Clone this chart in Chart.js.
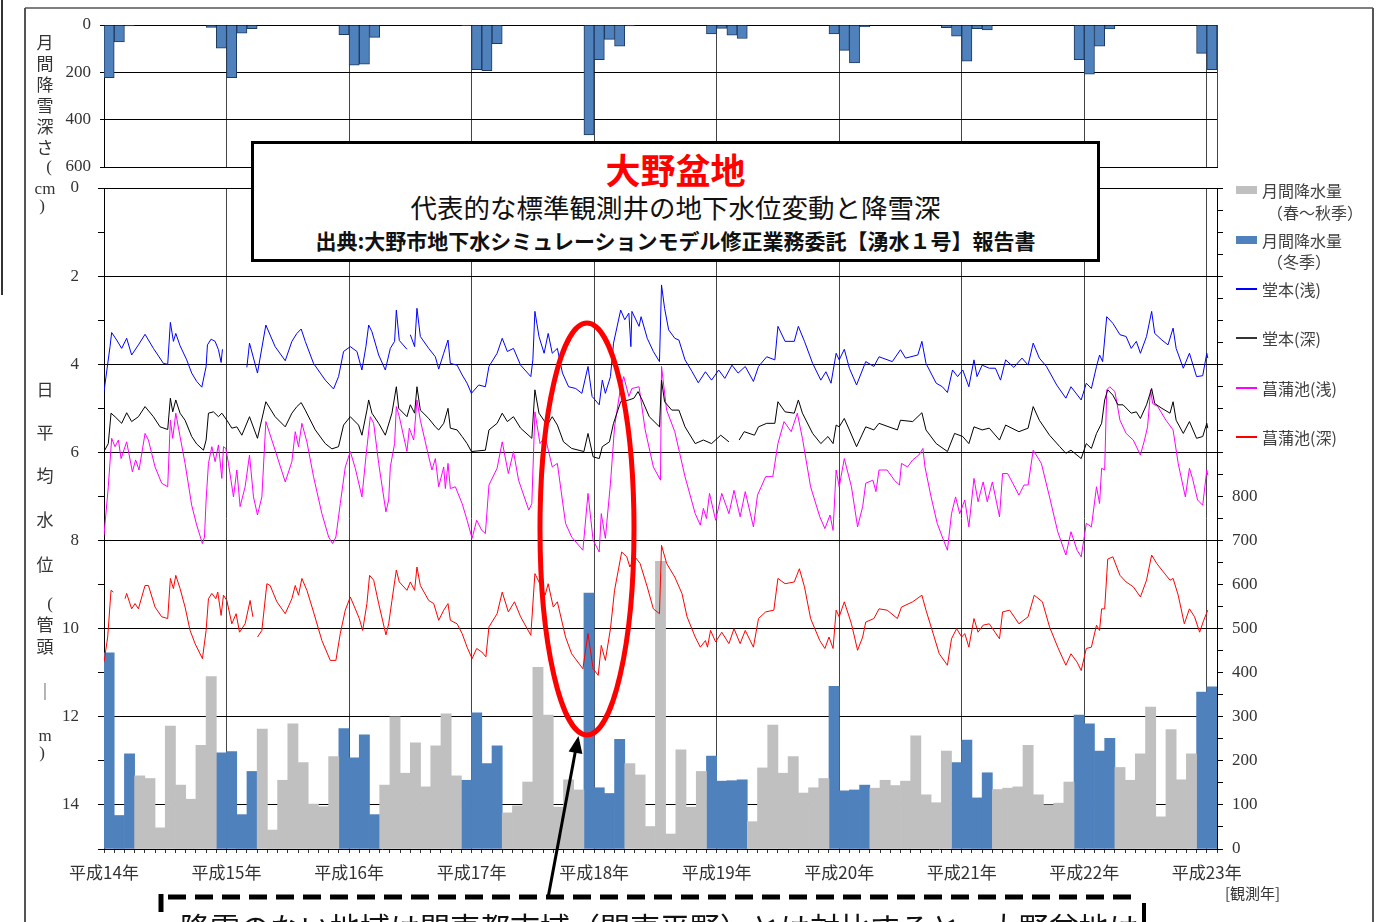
<!DOCTYPE html>
<html lang="ja">
<head>
<meta charset="utf-8">
<title>大野盆地 代表的な標準観測井の地下水位変動と降雪深</title>
<script src="https://cdn.jsdelivr.net/npm/chart.js@4.4.1/dist/chart.umd.min.js"></script>
<style>
  html, body { margin: 0; padding: 0; background: #fff; width: 1389px; height: 922px; overflow: hidden; }
  body { position: relative; font-family: "Noto Sans CJK JP", sans-serif; color: #333; }
  canvas { position: absolute; left: 0; top: 0; }
  .abs { position: absolute; white-space: nowrap; line-height: 1; }
  .vchar { position: absolute; transform: translate(-50%, -50%); font-size: 17px; line-height: 1; color: #333; }
  .serif { font-family: "Liberation Serif", "DejaVu Serif", serif; }
  #titleBox { position: absolute; left: 251px; top: 141px; width: 849px; height: 121px; box-sizing: border-box;
              border: 3px solid #000; background: #fff; text-align: center; }
  #titleBox div { position: absolute; left: 0; right: 0; line-height: 1; white-space: nowrap; }
  .legend { position: absolute; font-size: 16px; color: #404040; line-height: 1; white-space: nowrap; }
  .sw { position: absolute; left: 1236px; width: 21px; height: 8px; }
  .ln { position: absolute; left: 1236px; width: 21px; height: 2px; }
</style>
</head>
<body>
<canvas id="mainChart" width="1389" height="922"></canvas>
<canvas id="snowChart" width="1389" height="190"></canvas>

<svg width="1389" height="922" style="position:absolute;left:0;top:0;pointer-events:none">
  <line x1="2" y1="0" x2="2" y2="295" stroke="#333" stroke-width="2"/>
  <line x1="25" y1="8" x2="25" y2="922" stroke="#555" stroke-width="2"/>
  <line x1="1373" y1="8" x2="1373" y2="922" stroke="#555" stroke-width="2"/>
  <line x1="25" y1="8" x2="1373" y2="8" stroke="#555" stroke-width="1.5"/>
  <ellipse cx="587" cy="529" rx="47" ry="206" fill="none" stroke="#ff0000" stroke-width="5"/>
  <line x1="548" y1="898" x2="576" y2="748" stroke="#000" stroke-width="3"/>
  <polygon points="578.5,736 582.4,754 568.6,751.5" fill="#000"/>
  <line x1="168" y1="897" x2="1140" y2="897" stroke="#000" stroke-width="5" stroke-dasharray="18 9"/>
  <line x1="161" y1="894" x2="161" y2="912" stroke="#000" stroke-width="5"/>
  <line x1="1144" y1="903" x2="1144" y2="922" stroke="#000" stroke-width="4"/>
</svg>

<div id="titleBox">
  <div style="top:7px;color:#ff0000;font-weight:bold;font-size:35px;">大野盆地</div>
  <div style="top:50px;font-size:26.5px;color:#111;">代表的な標準観測井の地下水位変動と降雪深</div>
  <div style="top:86px;font-size:21px;font-weight:bold;color:#111;">出典:大野市地下水シミュレーションモデル修正業務委託【湧水１号】報告書</div>
</div>

<div class="abs" style="left:180px;top:911px;font-size:30px;color:#111;">降雪のない地域は関東都市域（関東平野）とは対比すると、大野盆地は</div>
<div class="abs" style="left:1225px;top:885px;font-size:15px;color:#333;">[観測年]</div>

<div id="axisTitles"></div>

<div class="sw" style="top:186px;background:#c0c0c0"></div>
<div class="legend" style="left:1262px;top:182px">月間降水量</div>
<div class="legend" style="left:1267px;top:204px">（春～秋季）</div>
<div class="sw" style="top:236px;background:#4f81bd"></div>
<div class="legend" style="left:1262px;top:232px">月間降水量</div>
<div class="legend" style="left:1267px;top:253px">（冬季）</div>
<div class="ln" style="top:288px;background:#0000ff"></div>
<div class="legend" style="left:1262px;top:281px">堂本(浅)</div>
<div class="ln" style="top:337px;background:#333"></div>
<div class="legend" style="left:1262px;top:330px">堂本(深)</div>
<div class="ln" style="top:387px;background:#ff00ff"></div>
<div class="legend" style="left:1262px;top:380px">菖蒲池(浅)</div>
<div class="ln" style="top:436px;background:#ff0000"></div>
<div class="legend" style="left:1262px;top:429px">菖蒲池(深)</div>

<script>
// 月 index: 0 = 平成14年1月 ... 108 = 平成23年1月
const yearLabels = ['平成14年', '平成15年', '平成16年', '平成17年', '平成18年',
                    '平成19年', '平成20年', '平成21年', '平成22年', '平成23年'];

// 月間降水量 (mm)
const precip = [
  445, 76, 216, 166, 160, 48, 279, 145, 113, 235, 391, 218,
  221, 78, 176, 272, 43, 156, 284, 196, 102, 96, 210, 273,
  207, 259, 78, 145, 300, 172, 241, 141, 234, 307, 166, 156,
  309, 194, 234, 82, 98, 152, 412, 304, 95, 157, 134, 581,
  139, 126, 249, 194, 168, 51, 653, 34, 225, 95, 176, 211,
  154, 155, 157, 62, 184, 281, 172, 210, 127, 139, 160, 369,
  132, 134, 145, 138, 156, 144, 154, 257, 123, 105, 222, 196,
  247, 116, 173, 135, 138, 141, 235, 123, 100, 104, 152, 304,
  284, 222, 251, 185, 156, 216, 322, 73, 271, 157, 216, 356,
  368
];

// 月間降雪深さ (cm)
const snow = [
  223, 72, 4, 0, 0, 0, 0, 0, 0, 0, 10, 98,
  223, 35, 16, 0, 0, 0, 0, 0, 0, 0, 0, 41,
  170, 166, 52, 0, 0, 0, 0, 0, 0, 0, 0, 3,
  189, 193, 79, 0, 0, 0, 0, 0, 0, 0, 0, 464,
  146, 61, 89, 4, 0, 0, 0, 0, 0, 0, 0, 38,
  14, 43, 57, 0, 0, 0, 0, 0, 0, 0, 0, 38,
  107, 160, 7, 0, 0, 0, 0, 0, 0, 0, 11, 47,
  153, 16, 21, 0, 0, 0, 0, 0, 0, 0, 0, 146,
  208, 89, 17, 0, 0, 0, 0, 0, 0, 0, 0, 120,
  189
];

// 日平均水位 (管頭-m)  [月, 水位]
const doumotoAsai = [
  [0,4.62],[0.59,3.60],[0.75,3.28],[1.24,3.45],[1.73,3.64],[2.22,3.41],[2.71,3.79],[3.37,3.56],[4.02,3.32],[4.84,3.64],
  [5.82,3.98],[6.24,4.00],[6.50,3.05],[6.80,3.48],[7.03,3.30],[7.45,3.58],[8.10,3.90],[8.59,4.20],[9.08,4.39],[9.58,4.52],
  [10.0,4.05],[10.13,3.56],[10.49,3.43],[10.88,3.48],[11.21,3.67],[11.47,3.96],[11.60,3.66],[12.8,null],[13.99,4.07],[14.25,3.52],
  [15.03,4.20],[15.85,3.11],[16.76,3.60],[17.75,3.92],[18.40,3.48],[18.89,3.30],[19.31,3.20],[19.71,3.48],[20.52,3.98],[21.67,4.36],
  [22.48,4.56],[22.97,4.28],[23.46,3.71],[24.12,3.60],[24.77,3.71],[25.26,4.13],[25.65,3.60],[25.92,3.11],[26.24,3.26],[26.90,3.79],
  [27.55,4.13],[28.04,3.64],[28.46,3.48],[28.63,2.77],[28.92,3.46],[29.67,3.66],[29.85,null],[30.0,3.33],[30.42,3.60],[30.65,2.73],
  [30.98,3.37],[31.80,3.64],[32.45,3.83],[32.78,4.11],[33.27,3.75],[33.69,3.45],[33.92,3.98],[34.58,4.02],[35.07,4.24],[35.56,4.43],
  [35.98,4.66],[36.7,4.47],[37.35,4.51],[37.7,4.05],[38.5,3.75],[39.0,3.41],[39.5,3.71],[40.1,3.64],[40.8,4.02],[41.8,4.28],
  [42.0,3.90],[42.2,2.80],[42.6,3.37],[43.1,3.75],[43.5,3.30],[43.9,3.75],[44.4,3.64],[44.9,4.20],[45.5,4.51],[46.2,4.55],
  [46.8,4.66],[47.4,4.05],[47.8,4.73],[48.5,4.92],[48.8,4.36],[49.1,4.66],[49.6,4.28],[49.9,3.52],[50.6,2.77],[51.0,2.99],
  [51.4,2.84],[51.6,3.60],[51.7,2.80],[52.4,3.14],[52.6,2.92],[53.2,3.41],[53.8,3.71],[54.4,3.94],[54.6,2.20],[54.9,2.73],
  [55.3,3.22],[55.9,3.41],[56.3,3.45],[56.9,3.90],[57.6,4.17],[58.2,4.42],[58.9,4.17],[59.5,4.36],[60.2,4.13],[60.8,4.32],
  [61.5,4.02],[62.1,4.20],[62.8,4.05],[63.6,4.39],[64.1,4.05],[64.9,3.83],[65.7,3.90],[66.0,3.14],[66.7,3.48],[67.6,3.48],
  [68.0,3.14],[68.6,3.48],[69.4,3.98],[70.2,4.36],[70.7,4.17],[71.2,4.43],[71.7,3.75],[72.0,3.90],[72.5,3.66],[73.0,4.09],
  [73.7,4.47],[74.6,3.94],[75.4,4.05],[75.9,3.83],[77.2,3.94],[78.0,3.67],[78.5,3.86],[79.7,3.79],[80.1,3.48],[80.5,3.98],
  [81.5,4.43],[82.1,4.51],[82.6,4.64],[83.1,4.13],[83.6,4.28],[84.1,4.13],[84.7,4.51],[85.2,3.90],[85.5,4.28],[86.0,4.02],
  [86.7,4.09],[87.3,4.09],[87.8,4.36],[88.3,3.90],[89.1,4.07],[89.9,3.86],[90.5,4.02],[91.0,3.52],[91.6,3.86],[92.3,4.05],
  [93.3,4.47],[94.2,4.77],[94.7,4.51],[95.7,4.81],[96.2,4.43],[96.7,4.55],[97.2,4.05],[97.5,3.79],[97.8,3.94],[98.2,2.92],
  [98.8,3.07],[99.5,3.33],[100.1,3.37],[100.6,3.64],[101.1,3.48],[101.5,3.75],[102.1,3.37],[102.6,2.80],[102.9,3.30],[103.6,3.45],
  [104.2,3.56],[104.7,3.18],[105.0,3.64],[105.7,4.09],[106.3,3.75],[107.0,4.28],[107.6,4.26],[108.0,3.75],[108.1,3.86]
];

const doumotoFukai = [
  [0,5.98],[0.42,5.80],[0.69,5.11],[1.08,5.19],[1.73,5.34],[2.22,5.10],[2.71,5.30],[3.37,5.19],[4.02,4.96],[4.84,5.19],
  [5.49,5.42],[6.24,5.48],[6.50,4.77],[6.73,5.08],[7.03,4.81],[7.45,5.11],[7.94,5.27],[8.59,5.64],[9.08,5.81],[9.74,5.95],
  [10.0,5.72],[10.23,5.11],[10.72,5.08],[11.21,5.19],[11.54,5.11],[12.03,5.27],[12.52,5.45],[13.01,5.42],[13.50,5.61],[14.25,5.19],
  [15.03,5.68],[15.85,4.85],[16.76,5.19],[17.75,5.42],[18.40,5.11],[18.89,4.96],[19.31,4.87],[19.71,5.04],[20.69,5.49],[21.67,5.80],
  [22.32,5.92],[22.97,5.87],[23.46,5.38],[24.12,5.19],[24.93,5.38],[25.26,5.61],[25.75,5.04],[25.92,4.81],[26.24,5.11],[26.90,5.34],
  [27.55,5.61],[28.20,5.11],[28.63,4.51],[28.86,5.00],[29.67,5.19],[30.0,4.92],[30.42,5.11],[30.65,4.51],[30.98,5.04],[31.80,5.23],
  [32.45,5.42],[32.78,5.49],[33.27,5.34],[33.69,5.00],[33.92,5.45],[34.58,5.49],[35.07,5.64],[35.56,5.80],[35.98,5.98],[37.35,5.95],
  [37.7,5.49],[38.5,5.34],[39.0,5.11],[39.5,5.30],[40.1,5.19],[40.8,5.45],[41.9,5.68],[42.2,4.58],[42.6,5.11],[43.4,5.38],
  [43.9,5.19],[44.4,5.38],[45.0,5.76],[45.8,5.91],[47.0,5.98],[47.4,5.57],[47.9,6.10],[48.5,6.14],[48.8,5.87],[49.5,5.76],
  [49.9,5.34],[50.6,4.85],[51.4,4.81],[51.9,4.77],[52.3,4.62],[52.7,4.81],[53.4,5.19],[54.4,5.42],[54.6,4.36],[54.9,4.85],
  [55.6,5.04],[56.3,5.04],[56.9,5.42],[57.9,5.80],[58.7,5.72],[59.5,5.80],[60.4,5.61],[61.2,5.76],[61.7,null],[62.2,5.72],
  [62.7,5.53],[63.7,5.61],[64.1,5.42],[64.9,5.34],[65.7,5.34],[66.0,4.85],[66.7,5.08],[67.6,5.11],[68.0,4.81],[68.4,5.11],
  [69.4,5.57],[70.2,5.80],[70.9,5.64],[71.4,5.80],[71.7,5.38],[72.0,5.42],[72.5,5.23],[73.0,5.49],[73.7,5.87],[74.6,5.42],
  [75.4,5.49],[75.9,5.34],[77.7,5.49],[78.0,5.27],[79.2,5.30],[80.1,5.10],[80.5,5.49],[81.5,5.80],[82.6,5.98],[83.3,5.57],
  [84.1,5.64],[84.7,5.80],[85.2,5.42],[86.0,5.49],[86.7,5.45],[87.7,5.72],[88.3,5.38],[89.6,5.53],[90.5,5.45],[91.0,4.96],
  [91.6,5.27],[92.6,5.61],[93.6,5.87],[94.2,6.02],[94.7,5.95],[95.7,6.14],[96.2,5.80],[96.7,5.91],[97.2,5.57],[97.7,5.34],
  [98.0,4.81],[98.3,4.58],[98.8,4.70],[99.3,4.92],[99.8,4.92],[100.6,5.11],[101.1,5.08],[101.5,5.23],[102.1,4.92],[102.6,4.55],
  [102.9,4.89],[103.6,5.00],[104.4,5.11],[104.7,4.85],[105.0,5.27],[105.7,5.57],[106.3,5.30],[107.0,5.68],[107.6,5.64],[108.0,5.34],
  [108.1,5.45]
];

const shoubuAsai = [
  [0,7.88],[0.42,6.78],[0.75,5.68],[1.08,5.87],[1.41,5.72],[1.67,6.14],[2.22,5.76],[2.78,6.44],[3.10,6.17],[3.43,6.40],
  [4.02,5.57],[4.35,5.72],[5.0,6.33],[5.65,6.70],[6.24,6.78],[6.50,5.27],[6.73,5.68],[7.03,5.11],[7.45,5.64],[7.94,6.25],
  [8.59,7.20],[9.08,7.65],[9.64,8.07],[9.84,7.92],[10.0,7.08],[10.23,6.25],[10.56,5.87],[10.88,6.21],[11.21,5.83],[11.54,6.59],
  [11.70,5.87],[11.93,5.91],[12.19,6.25],[12.68,7.01],[13.01,6.40],[13.33,7.23],[13.82,6.78],[14.25,6.06],[14.64,7.01],[15.03,7.42],
  [15.46,7.01],[15.85,5.30],[16.76,5.95],[17.75,6.67],[18.40,6.21],[18.73,5.53],[19.05,5.87],[19.38,5.34],[19.87,5.76],[20.52,6.55],
  [21.34,7.39],[22.0,7.92],[22.39,8.07],[22.71,7.92],[23.14,7.16],[23.63,6.33],[24.12,5.98],[24.61,6.36],[25.26,7.01],[25.65,6.10],
  [26.08,5.19],[26.41,5.34],[26.90,6.25],[27.61,7.35],[27.88,7.08],[28.04,6.33],[28.46,5.80],[28.63,4.96],[28.92,5.19],[29.67,5.98],
  [29.90,5.45],[30.33,5.72],[30.65,4.81],[30.98,5.27],[31.80,6.10],[32.12,6.40],[32.45,6.14],[32.78,6.78],[33.27,6.33],[33.43,6.82],
  [33.69,6.25],[33.92,6.82],[34.41,6.78],[35.07,7.16],[35.56,7.54],[36.05,7.95],[36.5,7.54],[37.0,7.77],[37.35,7.84],[37.7,6.74],
  [38.5,6.36],[39.0,5.76],[39.6,6.48],[40.1,5.98],[40.6,6.63],[41.6,7.31],[41.9,7.16],[42.2,5.08],[42.7,5.80],[43.2,5.64],
  [43.9,6.33],[44.4,6.25],[45.2,7.61],[45.8,7.92],[46.9,8.22],[47.4,6.93],[47.9,7.99],[48.5,8.26],[48.7,7.39],[49.1,7.95],
  [49.6,6.70],[50.0,5.42],[50.6,4.51],[50.9,4.28],[51.4,4.73],[51.7,4.55],[52.4,4.51],[53.0,5.49],[53.8,6.33],[54.5,6.63],
  [54.6,4.05],[55.1,5.04],[55.9,5.53],[56.9,6.55],[57.9,7.39],[58.4,7.65],[58.7,7.27],[59.0,7.50],[59.3,6.93],[59.9,7.54],
  [60.5,6.93],[61.2,7.39],[61.7,6.86],[62.3,7.46],[62.8,6.89],[63.6,7.69],[64.0,6.97],[64.8,6.55],[65.5,6.55],[66.0,5.80],
  [66.6,5.30],[67.3,5.53],[67.9,5.11],[68.4,5.68],[69.2,6.78],[70.1,7.46],[70.6,7.73],[71.1,7.42],[71.4,7.77],[71.7,6.40],
  [72.0,6.78],[72.5,6.14],[73.2,6.78],[73.8,7.69],[74.3,7.23],[74.6,6.70],[75.3,6.63],[75.6,6.89],[75.9,6.40],[76.7,6.40],
  [77.4,6.63],[77.9,6.74],[78.1,6.25],[78.7,6.33],[79.2,6.17],[79.8,6.06],[80.2,5.91],[80.4,6.33],[81.0,7.01],[81.6,7.61],
  [82.1,7.92],[82.6,8.22],[83.0,7.39],[83.4,7.01],[83.8,7.39],[84.3,7.08],[84.7,7.69],[85.2,6.59],[85.6,7.12],[86.1,6.67],
  [86.5,7.12],[87.0,6.67],[87.7,7.46],[88.0,6.48],[88.5,6.48],[89.0,6.70],[89.6,6.97],[90.1,6.74],[90.5,6.74],[91.0,5.95],
  [91.8,6.25],[92.6,7.01],[93.4,7.80],[94.2,8.33],[94.7,7.80],[95.3,8.22],[95.7,8.37],[96.2,7.61],[96.7,7.69],[97.2,6.78],
  [97.5,7.16],[97.7,6.36],[98.0,6.40],[98.2,4.58],[98.5,4.51],[99.0,4.62],[99.5,5.27],[100.1,5.57],[100.8,5.72],[101.5,6.06],
  [101.9,5.72],[102.2,5.42],[102.5,4.58],[102.7,4.89],[103.2,4.96],[104.0,5.27],[104.7,5.49],[105.2,6.25],[105.9,7.01],[106.3,6.36],
  [106.6,6.59],[107.1,7.08],[107.6,7.20],[108.0,6.40],[108.1,6.52]
];

const shoubuFukai = [
  [0,10.76],[0.36,10.19],[0.69,9.13],[0.92,9.17],[1.5,null],[2.06,9.32],[2.22,9.20],[2.71,9.55],[3.04,9.43],[3.37,9.55],
  [4.02,9.02],[4.35,9.02],[5.0,9.51],[5.65,9.73],[6.24,9.77],[6.50,8.86],[6.80,9.09],[7.03,8.79],[7.45,9.09],[7.94,9.51],
  [8.43,10.04],[8.92,10.34],[9.64,10.68],[10.0,10.04],[10.23,9.32],[10.56,9.20],[10.95,9.32],[11.14,9.17],[11.47,9.70],[11.70,9.24],
  [12.03,9.36],[12.52,9.89],[12.94,9.66],[13.27,10.08],[13.82,9.89],[14.31,9.36],[14.58,9.73],[14.8,null],[15.03,10.19],[15.46,10.04],
  [15.95,8.98],[16.27,9.02],[16.93,9.39],[17.75,9.66],[18.40,9.32],[18.73,9.02],[19.05,9.24],[19.38,8.86],[19.87,9.13],[20.52,9.62],
  [21.34,10.27],[22.16,10.72],[22.71,10.72],[23.14,10.11],[23.63,9.58],[24.12,9.28],[24.61,9.55],[25.0,9.77],[25.33,10.04],[25.75,9.43],
  [26.01,8.79],[26.41,8.90],[26.90,9.43],[27.61,10.14],[27.88,9.89],[28.20,9.36],[28.63,8.67],[28.92,8.94],[29.67,9.13],[30.0,8.94],
  [30.42,9.13],[30.65,8.60],[30.98,9.02],[31.80,9.36],[32.29,9.43],[32.78,9.81],[33.27,9.58],[33.69,9.43],[33.92,9.81],[34.58,9.89],
  [35.07,10.11],[35.56,10.42],[36.05,10.68],[36.5,10.45],[37.0,10.53],[37.4,10.64],[37.7,9.96],[38.5,9.66],[39.0,9.17],[39.6,9.62],
  [40.2,9.39],[40.8,9.73],[41.8,10.15],[42.2,8.75],[42.6,8.94],[43.2,9.24],[43.5,8.98],[44.0,9.51],[44.4,9.39],[45.2,10.19],
  [45.8,10.57],[46.9,10.91],[47.4,10.11],[47.9,10.91],[48.4,11.06],[48.7,10.38],[49.1,10.72],[49.6,10.00],[50.0,9.13],[50.7,8.26],
  [51.2,8.37],[51.5,8.60],[52.0,8.37],[52.5,8.52],[53.2,9.05],[53.8,9.55],[54.4,9.66],[54.6,8.11],[55.1,8.52],[55.9,8.83],
  [56.6,9.20],[57.1,9.73],[57.9,10.19],[58.4,10.42],[58.9,10.27],[59.1,10.42],[59.4,10.04],[59.9,10.30],[60.5,10.08],[61.2,10.34],
  [61.7,10.00],[62.3,10.34],[62.8,10.04],[63.6,10.42],[64.1,9.77],[64.8,9.62],[65.6,9.58],[66.0,8.86],[66.7,8.98],[67.6,8.94],
  [68.1,8.64],[68.6,9.05],[69.2,9.77],[70.1,10.27],[70.6,10.45],[71.0,10.19],[71.4,10.45],[71.7,9.58],[72.0,9.73],[72.5,9.39],
  [73.2,9.89],[73.8,10.49],[74.3,10.19],[74.6,9.85],[75.4,9.77],[75.9,9.55],[76.7,9.58],[77.7,9.77],[78.1,9.51],[79.2,9.39],
  [80.1,9.24],[80.5,9.58],[81.2,10.11],[81.8,10.57],[82.6,10.83],[83.0,10.23],[83.5,10.00],[84.0,10.19],[84.3,10.11],[84.7,10.42],
  [85.2,9.77],[85.6,10.08],[86.1,9.92],[86.7,9.89],[87.7,10.23],[88.0,9.62],[88.7,9.58],[89.6,9.89],[90.5,9.73],[91.1,9.24],
  [91.9,9.39],[92.6,9.96],[93.4,10.42],[94.2,10.83],[94.7,10.57],[95.3,10.76],[95.7,10.95],[96.2,10.45],[96.7,10.42],[97.2,9.92],
  [97.5,10.04],[97.7,9.55],[98.0,9.55],[98.3,8.42],[98.8,8.37],[99.5,8.79],[100.1,8.94],[100.8,9.05],[101.5,9.28],[102.1,8.90],
  [102.6,8.33],[103.1,8.52],[103.6,8.67],[104.4,8.90],[104.7,8.86],[105.2,9.24],[105.8,9.89],[106.3,9.55],[106.8,9.73],[107.3,10.08],
  [107.7,9.81],[108.1,9.58]
];

const monthLabels = precip.map((v, i) => (2002 + Math.floor(i / 12)) + '/' + (i % 12 + 1));
const monthTicks = precip.map((v, i) => i).concat([precip.length]);   // 0..109
const yearTicks = monthTicks.filter(v => v % 12 === 0 || v === precip.length);
const isWinter = i => { const m = i % 12; return m === 11 || m <= 2; };
const toPoints = arr => arr.map(p => ({ x: p[0], y: p[1] }));

const tickFont = { family: '"Liberation Serif", "DejaVu Serif", serif', size: 17 };
const clear = 'rgba(0,0,0,0)';

// 縦書きの軸タイトル
const axisTitleChars = [
  ['月', 45, 41], ['間', 45, 62], ['降', 45, 83], ['雪', 45, 104], ['深', 45, 125], ['さ', 45, 146],
  ['(', 49, 166], ['cm', 45, 188], [')', 42, 205],
  ['日', 45, 388], ['平', 45, 431], ['均', 45, 474], ['水', 45, 518], ['位', 45, 563],
  ['(', 50, 603], ['管', 45, 623], ['頭', 45, 645], ['｜', 45, 690], ['m', 45, 735], [')', 42, 752]
];
const titleHolder = document.getElementById('axisTitles');
axisTitleChars.forEach(c => {
  const s = document.createElement('span');
  s.className = 'vchar' + (/[a-z()]/.test(c[0]) ? ' serif' : '');
  s.textContent = c[0];
  s.style.left = c[1] + 'px';
  s.style.top = c[2] + 'px';
  titleHolder.appendChild(s);
});

function createCharts() {
  new Chart(document.getElementById('mainChart'), {
    type: 'bar',
    data: {
      labels: monthLabels,
      datasets: [
        {
          label: '月間降水量（春～秋季）',
          data: precip.map((v, i) => isWinter(i) ? null : v),
          backgroundColor: '#c0c0c0',
          xAxisID: 'xm', yAxisID: 'yr',
          grouped: false, barPercentage: 1, categoryPercentage: 1, order: 10
        },
        {
          label: '月間降水量（冬季）',
          data: precip.map((v, i) => isWinter(i) ? v : null),
          backgroundColor: '#4f81bd',
          xAxisID: 'xm', yAxisID: 'yr',
          grouped: false, barPercentage: 1, categoryPercentage: 1, order: 10
        },
        { type: 'line', label: '堂本(浅)', data: toPoints(doumotoAsai), borderColor: '#0000ff',
          borderWidth: 1, pointRadius: 0, xAxisID: 'x', yAxisID: 'y', order: 1 },
        { type: 'line', label: '堂本(深)', data: toPoints(doumotoFukai), borderColor: '#000000',
          borderWidth: 1, pointRadius: 0, xAxisID: 'x', yAxisID: 'y', order: 2 },
        { type: 'line', label: '菖蒲池(浅)', data: toPoints(shoubuAsai), borderColor: '#ff00ff',
          borderWidth: 1, pointRadius: 0, xAxisID: 'x', yAxisID: 'y', order: 3 },
        { type: 'line', label: '菖蒲池(深)', data: toPoints(shoubuFukai), borderColor: '#ff0000',
          borderWidth: 1, pointRadius: 0, xAxisID: 'x', yAxisID: 'y', order: 4 }
      ]
    },
    options: {
      responsive: false,
      animation: false,
      layout: { padding: { top: 188, left: 0, right: 112, bottom: 33 } },
      plugins: { legend: { display: false }, tooltip: { enabled: false } },
      scales: {
        xm: { type: 'category', display: false, offset: true, grid: { offset: true } },
        x: {
          type: 'linear', position: 'bottom', min: 0, max: 109, offset: false,
          afterBuildTicks: s => { s.ticks = monthTicks.map(v => ({ value: v })); },
          ticks: {
            autoSkip: false, maxRotation: 0, padding: 9, color: '#333',
            font: { family: '"Noto Sans CJK JP", sans-serif', size: 17 },
            callback: v => v % 12 === 0 ? yearLabels[v / 12] : ''
          },
          grid: {
            offset: false,
            color: c => (c.tick && c.tick.value % 12 === 0 && c.tick.value > 0) ? '#444' : clear,
            tickColor: '#333', tickLength: 4
          },
          border: { display: true, color: '#000' },
          afterFit: s => { s.height = 40; }
        },
        y: {
          type: 'linear', position: 'left', reverse: true, min: 0, max: 15,
          ticks: {
            stepSize: 1, autoSkip: false, padding: 19, color: '#333', font: tickFont,
            callback: v => (v % 2 === 0 && v < 15) ? v : ''
          },
          grid: {
            color: c => (c.tick && c.tick.value % 2 === 0 && c.tick.value < 15) ? '#000' : clear,
            tickColor: '#000', tickLength: 6
          },
          border: { color: '#000' },
          afterFit: s => { s.width = 104; }
        },
        yr: {
          type: 'linear', position: 'right', min: 0, max: 1500,
          ticks: {
            stepSize: 50, autoSkip: false, padding: 9, color: '#333', font: tickFont,
            callback: v => (v % 100 === 0 && v <= 800) ? v : ''
          },
          grid: { drawOnChartArea: false, tickColor: '#000', tickLength: 6 },
          border: { color: '#000' },
          afterFit: s => { s.width = 60; }
        }
      }
    }
  });

  new Chart(document.getElementById('snowChart'), {
    type: 'bar',
    data: {
      labels: monthLabels,
      datasets: [{
        label: '月間降雪深さ',
        data: snow.map(v => v > 0 ? v : null),
        backgroundColor: '#4f81bd',
        borderColor: '#1f3a60',
        borderWidth: 1,
        xAxisID: 'xm', yAxisID: 'y',
        barPercentage: 1, categoryPercentage: 1
      }]
    },
    options: {
      responsive: false,
      animation: false,
      layout: { padding: { top: 25, left: 0, right: 172, bottom: 23 } },
      plugins: { legend: { display: false }, tooltip: { enabled: false } },
      scales: {
        xm: { type: 'category', display: false, offset: true, grid: { offset: true } },
        x: {
          type: 'linear', position: 'bottom', min: 0, max: 109, offset: false,
          afterBuildTicks: s => { s.ticks = yearTicks.map(v => ({ value: v })); },
          ticks: { display: false },
          grid: { offset: false, color: '#444', drawTicks: false },
          border: { display: true, color: '#000' },
          afterFit: s => { s.height = 0; }
        },
        y: {
          type: 'linear', position: 'left', reverse: true, min: 0, max: 600,
          ticks: { stepSize: 200, padding: 9, color: '#333', font: tickFont },
          grid: { color: '#000', tickColor: '#000', tickLength: 4 },
          border: { color: '#000' },
          afterFit: s => { s.width = 104; }
        }
      }
    }
  });
}

createCharts();
</script>
</body>
</html>
